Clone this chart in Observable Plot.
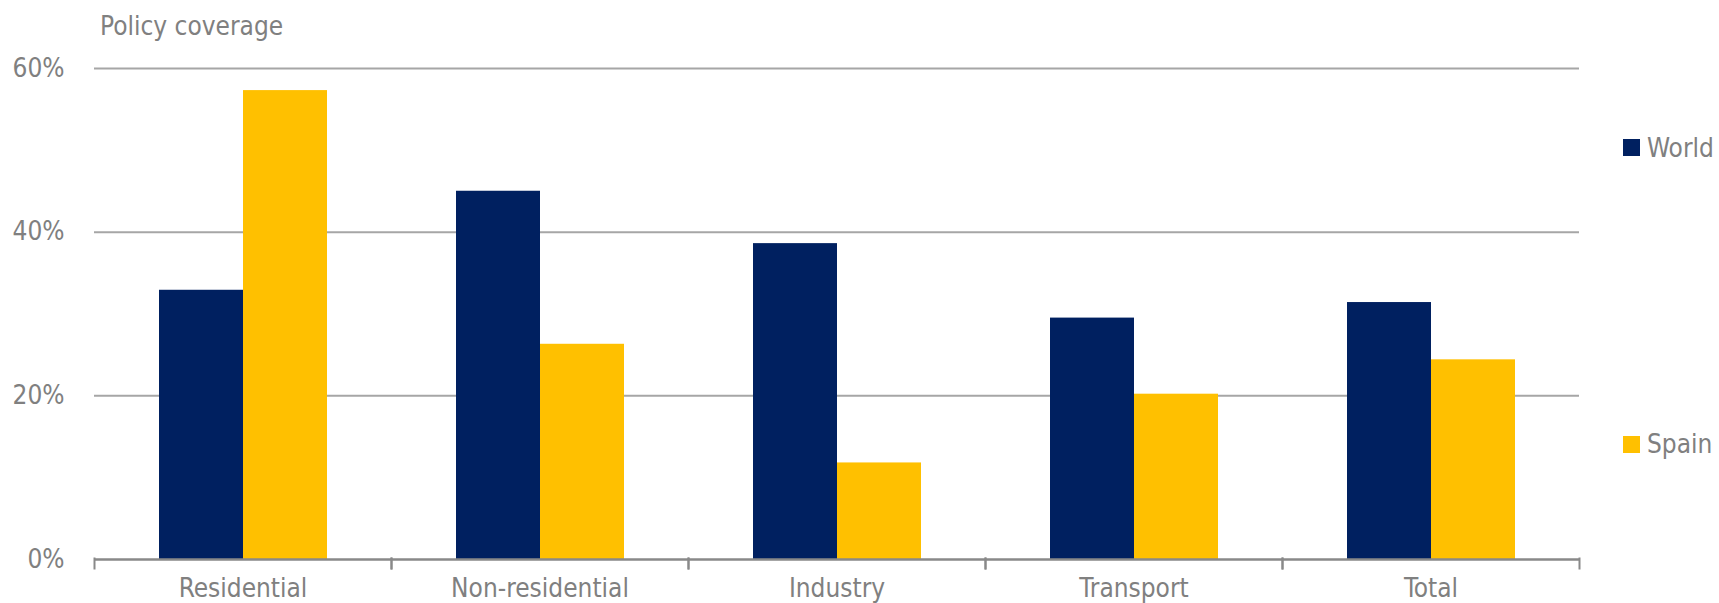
<!DOCTYPE html>
<html>
<head>
<meta charset="utf-8">
<script src="https://cdn.jsdelivr.net/npm/d3@7"></script>
<script src="https://cdn.jsdelivr.net/npm/@observablehq/plot@0.6"></script>
<style>
  html, body { margin: 0; padding: 0; background: #ffffff; }
  #wrap { position: relative; width: 1719px; height: 603px; overflow: hidden; }
  .txt { position: absolute; font-family: "DejaVu Sans Condensed", "Liberation Sans", sans-serif; font-size: 26px; color: #808080; white-space: nowrap; line-height: 1; }
  .sw { position: absolute; width: 17px; height: 17px; }
</style>
</head>
<body>
<div id="wrap">
  <div id="chart"></div>
  <div class="txt" id="title" style="left:100px; top:13px;">Policy coverage</div>
  <div id="legend"></div>
</div>
<script>
const FONT = '"DejaVu Sans Condensed", "Liberation Sans", sans-serif';
const categories = ["Residential", "Non-residential", "Industry", "Transport", "Total"];
const series = ["World", "Spain"];
const worldValues = [32.9, 45.0, 38.6, 29.5, 31.4];
const spainValues = [57.3, 26.3, 11.8, 20.2, 24.4];
const yTicks = [0, 20, 40, 60];
const colors = ["#002060", "#FFC000"];

const data = categories.flatMap((c, i) => [
  {category: c, series: "World", value: worldValues[i]},
  {category: c, series: "Spain", value: spainValues[i]}
]);

const chart = Plot.plot({
  width: 1719,
  height: 603,
  marginLeft: 94,
  marginRight: 140,
  marginTop: 68,
  marginBottom: 44,
  style: {fontFamily: FONT, fontSize: "26px", color: "#808080", background: "white", overflow: "visible"},
  fx: {domain: categories, padding: 0, label: null},
  x: {domain: series, paddingInner: 0, paddingOuter: 0.758, axis: null},
  y: {domain: [0, 60], ticks: yTicks, label: null},
  color: {domain: series, range: colors},
  marks: [
    Plot.gridY(yTicks.filter(t => t > 0), {stroke: "#A6A6A6", strokeOpacity: 1, strokeWidth: 2}),
    Plot.barY(data, {fx: "category", x: "series", y: "value", fill: "series"}),
    Plot.ruleY([0], {stroke: "#898989", strokeWidth: 2.5}),
    Plot.frame({anchor: "left", stroke: "#898989", strokeWidth: 2, insetTop: 490, insetBottom: -9}),
    Plot.frame({anchor: "right", stroke: "#898989", strokeWidth: 2, insetTop: 490, insetBottom: -9}),
    Plot.axisY({ticks: yTicks, tickFormat: d => d + "%", tickSize: 0, tickPadding: 30, label: null, fontSize: 26}),
    Plot.axisFx({anchor: "bottom", tickSize: 0, tickPadding: 19, label: null, fontSize: 26})
  ]
});
document.getElementById("chart").appendChild(chart);

const legend = document.getElementById("legend");
const legendTops = [139, 436];
const legendTextTops = [135, 431];
series.forEach((s, i) => {
  const sw = document.createElement("div");
  sw.className = "sw";
  sw.style.left = "1623px";
  sw.style.top = legendTops[i] + "px";
  sw.style.background = colors[i];
  legend.appendChild(sw);
  const t = document.createElement("div");
  t.className = "txt";
  t.style.left = "1647px";
  t.style.top = legendTextTops[i] + "px";
  t.textContent = s;
  legend.appendChild(t);
});
</script>
</body>
</html>
